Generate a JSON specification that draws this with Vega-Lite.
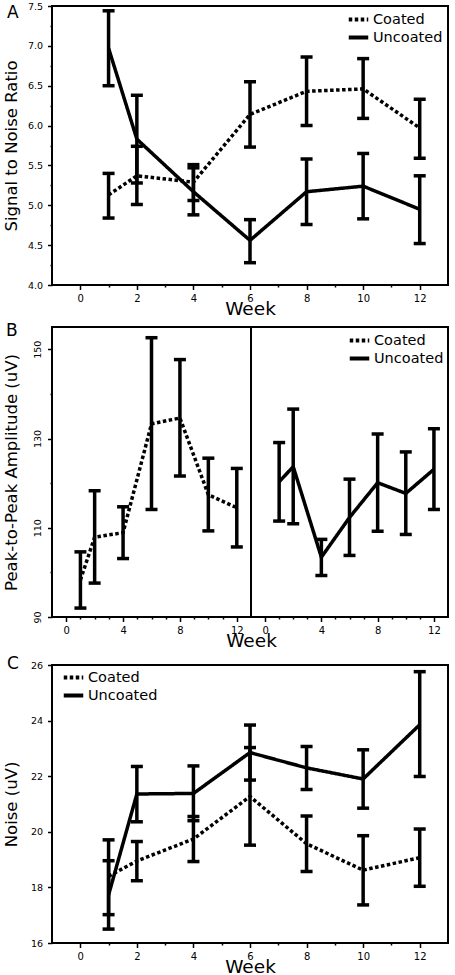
{
  "$schema": "https://vega.github.io/schema/vega-lite/v6.json",
  "padding": {"left": 1, "top": 0, "right": 0, "bottom": 0},
  "background": "white",
  "spacing": 2,
  "config": {
    "font": "DejaVu Sans",
    "view": {"stroke": "black", "strokeWidth": 2},
    "axis": {"domain": false, "grid": false, "tickColor": "black", "tickWidth": 1.5, "labelColor": "black", "labelFontSize": 9.5, "labelFont": "DejaVu Sans", "titleFont": "DejaVu Sans", "titleFontWeight": "normal", "titleColor": "black", "labelOverlap": false, "labelFlush": false, "labelBound": false},
    "axisX": {"titleFontSize": 18.5, "titlePadding": -4, "labelPadding": 3.5, "labelFontSize": 10},
    "axisY": {"titleFontSize": 16.5, "titleX": -36, "titleBaseline": "alphabetic", "labelPadding": 5},
    "title": {"anchor": "start", "frame": "bounds", "fontSize": 17, "fontWeight": "normal", "font": "DejaVu Sans", "color": "black", "baseline": "top", "dx": 4},
    "legend": {"title": null, "orient": "none", "symbolType": "M-1.3,0L1.3,0", "symbolStrokeWidth": 4, "symbolSize": 225, "symbolStrokeColor": "black", "labelFontSize": 14.5, "labelFont": "DejaVu Sans", "labelColor": "black", "labelOffset": 5, "rowPadding": -2, "padding": 0}
  },
  "datasets": {
    "snr": [
      {"week": 1, "group": "Coated", "mean": 5.13, "lo": 4.84, "hi": 5.40},
      {"week": 2, "group": "Coated", "mean": 5.37, "lo": 5.01, "hi": 5.74},
      {"week": 4, "group": "Coated", "mean": 5.29, "lo": 5.06, "hi": 5.51},
      {"week": 6, "group": "Coated", "mean": 6.14, "lo": 5.73, "hi": 6.55},
      {"week": 8, "group": "Coated", "mean": 6.43, "lo": 6.00, "hi": 6.86},
      {"week": 10, "group": "Coated", "mean": 6.46, "lo": 6.09, "hi": 6.84},
      {"week": 12, "group": "Coated", "mean": 5.97, "lo": 5.59, "hi": 6.33},
      {"week": 1, "group": "Uncoated", "mean": 6.97, "lo": 6.50, "hi": 7.44},
      {"week": 2, "group": "Uncoated", "mean": 5.83, "lo": 5.28, "hi": 6.38},
      {"week": 4, "group": "Uncoated", "mean": 5.17, "lo": 4.88, "hi": 5.47},
      {"week": 6, "group": "Uncoated", "mean": 4.56, "lo": 4.28, "hi": 4.82},
      {"week": 8, "group": "Uncoated", "mean": 5.17, "lo": 4.76, "hi": 5.58},
      {"week": 10, "group": "Uncoated", "mean": 5.24, "lo": 4.83, "hi": 5.65},
      {"week": 12, "group": "Uncoated", "mean": 4.95, "lo": 4.52, "hi": 5.37}
    ],
    "amp": [
      {"week": 1, "group": "Coated", "mean": 98.3, "lo": 92.0, "hi": 104.6},
      {"week": 2, "group": "Coated", "mean": 107.9, "lo": 97.6, "hi": 118.3},
      {"week": 4, "group": "Coated", "mean": 108.9, "lo": 103.1, "hi": 114.7},
      {"week": 6, "group": "Coated", "mean": 133.3, "lo": 114.1, "hi": 152.6},
      {"week": 8, "group": "Coated", "mean": 134.6, "lo": 121.6, "hi": 147.7},
      {"week": 10, "group": "Coated", "mean": 117.4, "lo": 109.3, "hi": 125.6},
      {"week": 12, "group": "Coated", "mean": 114.5, "lo": 105.7, "hi": 123.3},
      {"week": 1, "group": "Uncoated", "mean": 120.3, "lo": 111.5, "hi": 129.1},
      {"week": 2, "group": "Uncoated", "mean": 123.7, "lo": 110.9, "hi": 136.6},
      {"week": 4, "group": "Uncoated", "mean": 103.4, "lo": 99.3, "hi": 107.4},
      {"week": 6, "group": "Uncoated", "mean": 112.3, "lo": 103.8, "hi": 120.9},
      {"week": 8, "group": "Uncoated", "mean": 120.1, "lo": 109.2, "hi": 131.0},
      {"week": 10, "group": "Uncoated", "mean": 117.7, "lo": 108.5, "hi": 127.0},
      {"week": 12, "group": "Uncoated", "mean": 123.1, "lo": 114.1, "hi": 132.2}
    ],
    "noise": [
      {"week": 1, "group": "Coated", "mean": 18.4, "lo": 17.02, "hi": 19.71},
      {"week": 2, "group": "Coated", "mean": 18.95, "lo": 18.24, "hi": 19.65},
      {"week": 4, "group": "Coated", "mean": 19.74, "lo": 18.93, "hi": 20.55},
      {"week": 6, "group": "Coated", "mean": 21.27, "lo": 19.52, "hi": 23.03},
      {"week": 8, "group": "Coated", "mean": 19.57, "lo": 18.57, "hi": 20.57},
      {"week": 10, "group": "Coated", "mean": 18.62, "lo": 17.37, "hi": 19.86},
      {"week": 12, "group": "Coated", "mean": 19.07, "lo": 18.04, "hi": 20.1},
      {"week": 1, "group": "Uncoated", "mean": 17.73, "lo": 16.5, "hi": 18.96},
      {"week": 2, "group": "Uncoated", "mean": 21.36, "lo": 20.36, "hi": 22.35},
      {"week": 4, "group": "Uncoated", "mean": 21.38, "lo": 20.4, "hi": 22.37},
      {"week": 6, "group": "Uncoated", "mean": 22.85, "lo": 21.86, "hi": 23.84},
      {"week": 8, "group": "Uncoated", "mean": 22.3, "lo": 21.52, "hi": 23.07},
      {"week": 10, "group": "Uncoated", "mean": 21.9, "lo": 20.85, "hi": 22.95},
      {"week": 12, "group": "Uncoated", "mean": 23.85, "lo": 21.99, "hi": 25.76}
    ]
  },
  "resolve": {"scale": {"x": "independent", "y": "independent", "strokeDash": "independent"}, "legend": {"strokeDash": "independent"}},
  "vconcat": [
    {
      "width": 396, "height": 279,
      "title": {"text": "A", "offset": -21},
      "data": {"name": "snr"},
      "encoding": {
        "x": {"field": "week", "type": "quantitative", "title": "Week", "scale": {"domain": [-1, 13], "nice": false, "zero": false},
          "axis": {"labelOverlap": false, "values": [0, 1, 2, 3, 4, 5, 6, 7, 8, 9, 10, 11, 12], "labelExpr": "datum.value % 2 === 0 ? datum.label : ''", "tickSize": {"condition": {"test": "datum.value % 2 !== 0", "value": 2}, "value": 4.5}}}
      },
      "layer": [
        {"mark": {"type": "errorbar", "orient": "vertical", "color": "black", "opacity": 1, "thickness": 3.5, "size": 12, "ticks": {"opacity": 1}},
         "encoding": {"y": {"field": "lo", "type": "quantitative", "title": "Signal to Noise Ratio", "scale": {"domain": [4, 7.5], "nice": false, "zero": false},
             "axis": {"labelOverlap": false, "values": [4, 4.25, 4.5, 4.75, 5, 5.25, 5.5, 5.75, 6, 6.25, 6.5, 6.75, 7, 7.25, 7.5], "labelExpr": "(datum.value * 4) % 2 === 1 ? '' : format(datum.value, '.1f')", "tickSize": {"condition": {"test": "(datum.value * 4) % 2 === 1", "value": 2}, "value": 4.5}}}, "y2": {"field": "hi"}}},
        {"mark": {"type": "line", "color": "black", "strokeWidth": 3.5, "strokeCap": "butt"},
         "encoding": {
           "y": {"field": "mean", "type": "quantitative", "title": "Signal to Noise Ratio", "scale": {"domain": [4, 7.5], "nice": false, "zero": false},
             "axis": {"labelOverlap": false, "values": [4, 4.25, 4.5, 4.75, 5, 5.25, 5.5, 5.75, 6, 6.25, 6.5, 6.75, 7, 7.25, 7.5], "labelExpr": "(datum.value * 4) % 2 === 1 ? '' : format(datum.value, '.1f')", "tickSize": {"condition": {"test": "(datum.value * 4) % 2 === 1", "value": 2}, "value": 4.5}}},
           "strokeDash": {"field": "group", "type": "nominal", "scale": {"domain": ["Coated", "Uncoated"], "range": [[3.5, 2.5], [1, 0]]}, "legend": {"legendX": 297, "legendY": 4}}
         }}
      ]
    },
    {
      "title": {"text": "B", "offset": -13.5},
      "spacing": 0,
      "bounds": "flush",
      "resolve": {"scale": {"x": "independent", "strokeDash": "independent"}, "legend": {"strokeDash": "independent"}},
      "hconcat": [
        {
          "width": 199, "height": 290,
          "data": {"name": "amp"},
          "transform": [{"filter": "datum.group === 'Coated'"}],
          "encoding": {
            "x": {"field": "week", "type": "quantitative", "title": "Week", "scale": {"domain": [-1, 13], "nice": false, "zero": false},
              "axis": {"labelOverlap": false, "values": [0, 1, 2, 3, 4, 5, 6, 7, 8, 9, 10, 11, 12], "labelExpr": "datum.value % 4 === 0 ? datum.label : ''", "tickSize": {"condition": {"test": "datum.value % 4 !== 0", "value": 2}, "value": 4.5}, "titleAnchor": "end", "titleAlign": "center"}}
          },
          "layer": [
            {"mark": {"type": "errorbar", "orient": "vertical", "color": "black", "opacity": 1, "thickness": 3.5, "size": 12, "ticks": {"opacity": 1}},
             "encoding": {"y": {"field": "lo", "type": "quantitative", "title": "Peak-to-Peak Amplitude (uV)", "scale": {"domain": [90, 155], "nice": false, "zero": false}}, "y2": {"field": "hi"}}},
            {"mark": {"type": "line", "color": "black", "strokeWidth": 3.5, "strokeCap": "butt"},
             "encoding": {
               "y": {"field": "mean", "type": "quantitative", "title": "Peak-to-Peak Amplitude (uV)", "scale": {"domain": [90, 155], "nice": false, "zero": false},
                 "axis": {"labelOverlap": false, "values": [90, 100, 110, 120, 130, 140, 150], "labelExpr": "(datum.value - 90) % 20 === 0 ? datum.label : ''", "labelAngle": -90, "labelAlign": "center", "labelBaseline": "bottom", "tickSize": {"condition": {"test": "(datum.value - 90) % 20 !== 0", "value": 2}, "value": 4.5}}},
               "strokeDash": {"field": "group", "type": "nominal", "scale": {"domain": ["Coated", "Uncoated"], "range": [[3.5, 2.5], [1, 0]]}, "legend": null}
             }}
          ]
        },
        {
          "width": 197, "height": 290,
          "data": {"name": "amp"},
          "transform": [{"filter": "datum.group === 'Uncoated'"}],
          "encoding": {
            "x": {"field": "week", "type": "quantitative", "title": null, "scale": {"domain": [-1, 13], "nice": false, "zero": false},
              "axis": {"labelOverlap": false, "values": [0, 1, 2, 3, 4, 5, 6, 7, 8, 9, 10, 11, 12], "labelExpr": "datum.value % 4 === 0 ? datum.label : ''", "tickSize": {"condition": {"test": "datum.value % 4 !== 0", "value": 2}, "value": 4.5}}}
          },
          "layer": [
            {"mark": {"type": "errorbar", "orient": "vertical", "color": "black", "opacity": 1, "thickness": 3.5, "size": 12, "ticks": {"opacity": 1}},
             "encoding": {"y": {"field": "lo", "type": "quantitative", "axis": null, "scale": {"domain": [90, 155], "nice": false, "zero": false}}, "y2": {"field": "hi"}}},
            {"mark": {"type": "line", "color": "black", "strokeWidth": 3.5, "strokeCap": "butt"},
             "encoding": {
               "y": {"field": "mean", "type": "quantitative", "axis": null, "scale": {"domain": [90, 155], "nice": false, "zero": false}},
               "strokeDash": {"field": "group", "type": "nominal", "scale": {"domain": ["Coated", "Uncoated"], "range": [[3.5, 2.5], [1, 0]]}, "legend": {"legendX": 99, "legendY": 4}}
             }}
          ]
        }
      ]
    },
    {
      "width": 396, "height": 278,
      "title": {"text": "C", "offset": -12.5},
      "data": {"name": "noise"},
      "encoding": {
        "x": {"field": "week", "type": "quantitative", "title": "Week", "scale": {"domain": [-1, 13], "nice": false, "zero": false},
          "axis": {"labelOverlap": false, "values": [0, 1, 2, 3, 4, 5, 6, 7, 8, 9, 10, 11, 12], "labelExpr": "datum.value % 2 === 0 ? datum.label : ''", "tickSize": {"condition": {"test": "datum.value % 2 !== 0", "value": 2}, "value": 4.5}}}
      },
      "layer": [
        {"mark": {"type": "errorbar", "orient": "vertical", "color": "black", "opacity": 1, "thickness": 3.5, "size": 12, "ticks": {"opacity": 1}},
         "encoding": {"y": {"field": "lo", "type": "quantitative", "title": "Noise (uV)", "scale": {"domain": [16, 26], "nice": false, "zero": false}}, "y2": {"field": "hi"}}},
        {"mark": {"type": "line", "color": "black", "strokeWidth": 3.5, "strokeCap": "butt"},
         "encoding": {
           "y": {"field": "mean", "type": "quantitative", "title": "Noise (uV)", "scale": {"domain": [16, 26], "nice": false, "zero": false},
             "axis": {"labelOverlap": false, "values": [16, 17, 18, 19, 20, 21, 22, 23, 24, 25, 26], "labelExpr": "datum.value % 2 === 0 ? datum.label : ''", "tickSize": {"condition": {"test": "datum.value % 2 !== 0", "value": 2}, "value": 4.5}}},
           "strokeDash": {"field": "group", "type": "nominal", "scale": {"domain": ["Coated", "Uncoated"], "range": [[3.5, 2.5], [1, 0]]}, "legend": {"legendX": 12, "legendY": 3}}
         }}
      ]
    }
  ]
}
